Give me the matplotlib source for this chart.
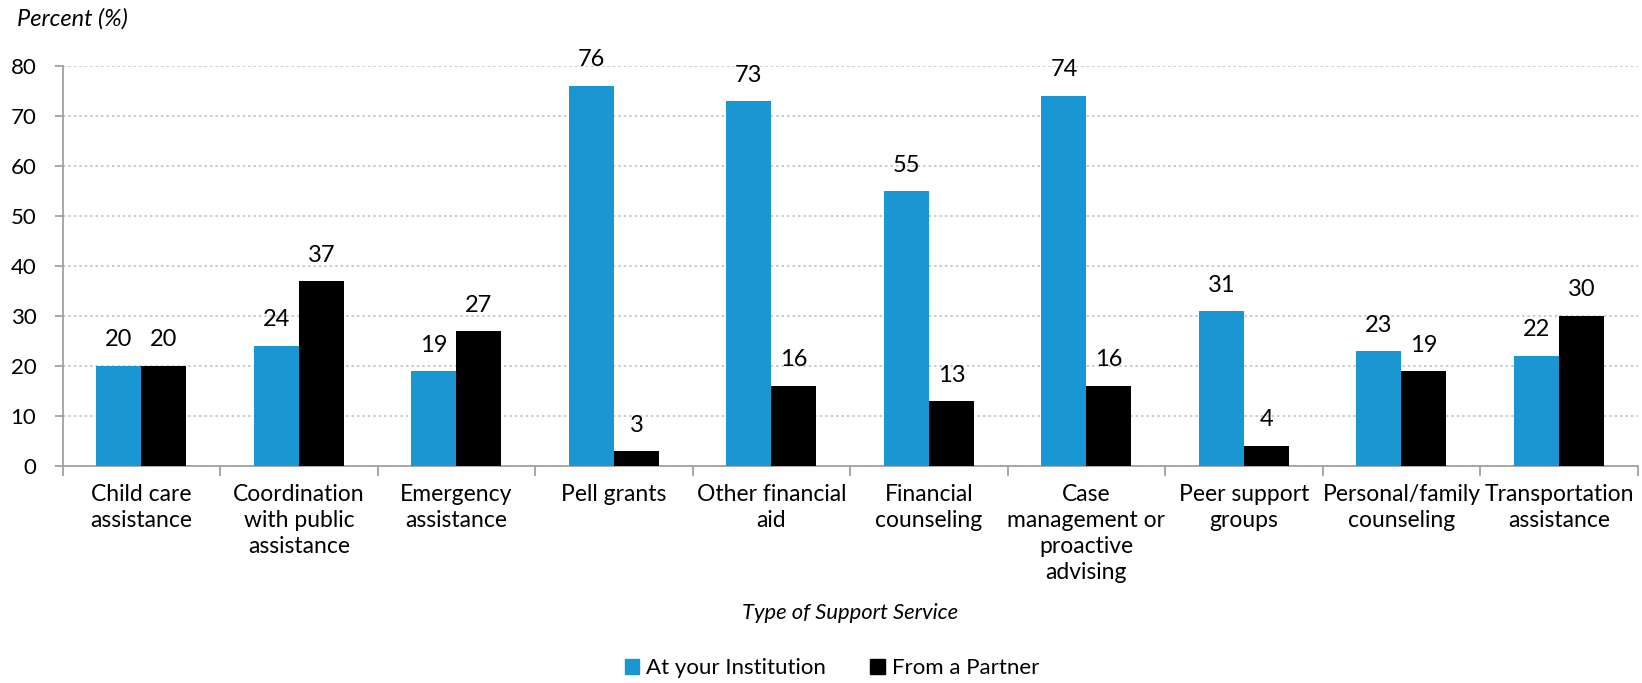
import numpy as np
import matplotlib
matplotlib.use("Agg")
import matplotlib.pyplot as plt
from matplotlib.patches import Patch

plt.rcParams["font.family"] = ["Lato", "DejaVu Sans"]

CATEGORIES = [
    "Child care\nassistance",
    "Coordination\nwith public\nassistance",
    "Emergency\nassistance",
    "Pell grants",
    "Other financial\naid",
    "Financial\ncounseling",
    "Case\nmanagement or\nproactive\nadvising",
    "Peer support\ngroups",
    "Personal/family\ncounseling",
    "Transportation\nassistance",
]
AT_INSTITUTION = [20, 24, 19, 76, 73, 55, 74, 31, 23, 22]
FROM_PARTNER = [20, 37, 27, 3, 16, 13, 16, 4, 19, 30]
SERIES_NAMES = ["At your Institution", "From a Partner"]
Y_TICKS = [0, 10, 20, 30, 40, 50, 60, 70, 80]

BLUE = "#1A96D3"
BLACK = "#000000"
AXIS_GRAY = "#A0A0A0"
GRID_GRAY = "#C8C8C8"

W, H = 1642, 683
fig = plt.figure(figsize=(W / 100, H / 100), dpi=100)
ax = fig.add_axes([62.7 / W, (H - 466) / H, 1575 / W, 400 / H])

x = np.arange(len(CATEGORIES))
bw = 45 / 157.5

bars1 = ax.bar(x - bw / 2, AT_INSTITUTION, width=bw, color=BLUE, zorder=3)
bars2 = ax.bar(x + bw / 2, FROM_PARTNER, width=bw, color=BLACK, zorder=3)

for bars, vals in [(bars1, AT_INSTITUTION), (bars2, FROM_PARTNER)]:
    for b, v in zip(bars, vals):
        ax.annotate(str(v), (b.get_x() + b.get_width() / 2, v),
                    xytext=(0, 26), textcoords="offset pixels",
                    ha="center", va="center", fontsize=17,
                    color="#000000", clip_on=False, zorder=4)

ax.set_xlim(-0.5, len(CATEGORIES) - 0.5)
ax.set_ylim(0, 80)
ax.set_yticks(Y_TICKS)
ax.yaxis.grid(True, linestyle=(0, (1.2, 1.6)), color=GRID_GRAY,
              linewidth=1.4, zorder=0)

# tick marks at group boundaries, labels at group centres
ax.set_xticks(np.arange(len(CATEGORIES) + 1) - 0.5)
ax.set_xticklabels([])
ax.set_xticks(x, minor=True)
ax.set_xticklabels(CATEGORIES, minor=True, fontsize=16.5, linespacing=1.3)
ax.tick_params(axis="x", which="major", length=7, width=1.3,
               color=AXIS_GRAY, direction="out")
ax.tick_params(axis="x", which="minor", length=0, pad=13)
ax.tick_params(axis="y", length=6, width=1.3, color=AXIS_GRAY,
               labelsize=16, pad=13)

for side in ["top", "right"]:
    ax.spines[side].set_visible(False)
for side in ["left", "bottom"]:
    ax.spines[side].set_color(AXIS_GRAY)
    ax.spines[side].set_linewidth(1.3)

fig.text(17 / W, 1 - 19 / H, "Percent (%)", style="italic",
         fontsize=17, ha="left", va="center")
fig.text(850 / W, 1 - 613 / H, "Type of Support Service", style="italic",
         fontsize=15.8, ha="center", va="center")

handles = [Patch(color=BLUE), Patch(color=BLACK)]
fig.legend(handles, SERIES_NAMES, loc="center", ncol=2, frameon=False,
           bbox_to_anchor=(832 / W, 1 - 668 / H), fontsize=16,
           handlelength=0.65, handleheight=0.65, handletextpad=0.3,
           columnspacing=2.0)

fig.savefig("out.png", dpi=100)
